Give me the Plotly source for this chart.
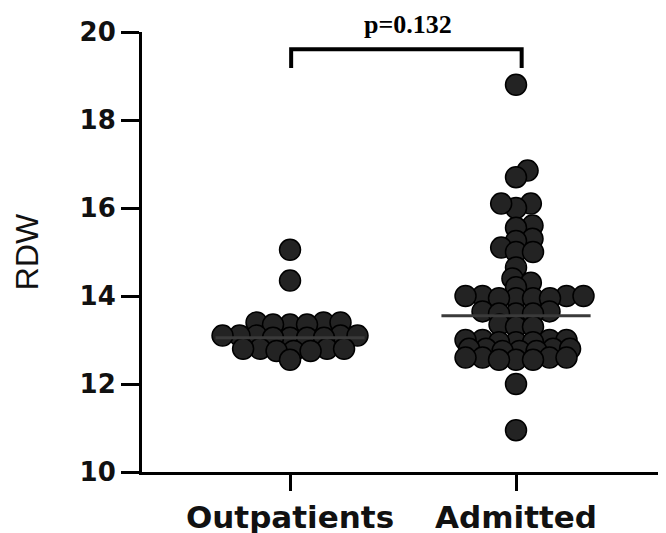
import numpy as np
import plotly.graph_objects as go

categories = ["Outpatients", "Admitted"]

outpatients = [15.05, 14.35,
               13.4, 13.35, 13.4, 13.35, 13.4, 13.35,
               13.1, 13.05, 13.1, 13.05, 13.1, 13.05, 13.1, 13.05, 13.1,
               12.8, 12.75, 12.8, 12.75, 12.8, 12.75, 12.8,
               12.55]

admitted = [18.8,
            16.85, 16.7,
            16.1, 16.0, 16.1,
            15.6, 15.55,
            15.3, 15.25,
            15.1, 15.0, 15.0,
            14.65,
            14.4, 14.3,
            14.2,
            14.0, 14.0, 13.95, 13.95, 14.0, 13.95, 14.0, 13.95,
            13.65, 13.6, 13.6, 13.65, 13.6,
            13.35, 13.3, 13.3,
            13.0, 12.95, 13.0, 12.95, 13.0, 12.95, 13.0,
            12.8, 12.75, 12.8, 12.75, 12.8, 12.75, 12.8,
            12.6, 12.55, 12.6, 12.55, 12.6, 12.55, 12.6,
            12.0, 10.95]

means = [13.05, 13.55]
p_text = "p=0.132"

# figure geometry (page has an 8px body margin)
FIG_W, FIG_H = 658, 525
M_L, M_R, M_T, M_B = 134, 4, 24, 61
X_RANGE = [-0.655, 1.646]
Y_RANGE = [10, 20]
PLOT_W = FIG_W - M_L - M_R
PLOT_H = FIG_H - M_T - M_B
PX_X = PLOT_W / (X_RANGE[1] - X_RANGE[0])
PX_Y = PLOT_H / (Y_RANGE[1] - Y_RANGE[0])
SX, SY = 17.0, 9.0  # collision ellipse (px)


def swarm(values, center):
    vals = np.asarray(values, dtype=float)
    order = np.argsort(vals, kind="stable")
    placed = []
    xs = np.zeros(len(vals))
    for idx in order:
        y = vals[idx] * PX_Y
        cands = [0.0]
        for (px, py) in placed:
            t = (y - py) / SY
            if abs(t) < 1:
                dx = SX * np.sqrt(1 - t ** 2)
                cands += [px + dx, px - dx]
        cands.sort(key=lambda c: (abs(c), -c))
        for c in cands:
            ok = True
            for (px, py) in placed:
                if ((c - px) / SX) ** 2 + ((y - py) / SY) ** 2 < 1 - 1e-6:
                    ok = False
                    break
            if ok:
                xs[idx] = c
                placed.append((c, y))
                break
    return center + xs / PX_X, vals


fig = go.Figure()
for i, data in enumerate([outpatients, admitted]):
    x, y = swarm(data, i)
    fig.add_trace(go.Scatter(
        x=x, y=y, mode="markers",
        marker=dict(size=21, color="#232323", line=dict(color="#000000", width=1.5)),
        showlegend=False, hoverinfo="y", cliponaxis=False))

for i, m in enumerate(means):
    fig.add_trace(go.Scatter(
        x=[i - 0.33, i + 0.33], y=[m, m], mode="lines",
        line=dict(color="#3a3a3a", width=3), showlegend=False, hoverinfo="skip"))

fig.add_shape(type="path", xref="x", yref="y",
              path="M 0.005,19.18 L 0.005,19.61 L 1.025,19.61 L 1.025,19.18",
              line=dict(color="black", width=4))

fig.add_annotation(x=0.52, y=1.016, xref="x", yref="paper", text=p_text,
                   showarrow=False, yanchor="middle",
                   font=dict(family="Liberation Serif", size=26, color="black", weight="bold"))

fig.update_layout(
    width=FIG_W, height=FIG_H,
    margin=dict(l=M_L, r=M_R, t=M_T, b=M_B),
    plot_bgcolor="white", paper_bgcolor="white",
)
fig.update_xaxes(range=X_RANGE, tickvals=[0, 1], ticktext=categories,
                 ticks="outside", ticklen=16, tickwidth=3, tickcolor="black",
                 showline=True, linewidth=3, linecolor="black",
                 showgrid=False, zeroline=False, automargin=False,
                 ticklabelstandoff=0,
                 tickfont=dict(family="DejaVu Sans", size=31, color="#111", weight="bold"))
fig.update_yaxes(range=Y_RANGE, tickvals=[10, 12, 14, 16, 18, 20],
                 ticks="outside", ticklen=18, tickwidth=3, tickcolor="black",
                 showline=True, linewidth=3, linecolor="black",
                 showgrid=False, zeroline=False, automargin=False,
                 tickfont=dict(family="DejaVu Sans", size=26, color="#111", weight="bold"),
                 title=dict(text="RDW", standoff=32,
                            font=dict(family="Liberation Sans", size=32, color="#111")))

fig.write_html("out.html")
